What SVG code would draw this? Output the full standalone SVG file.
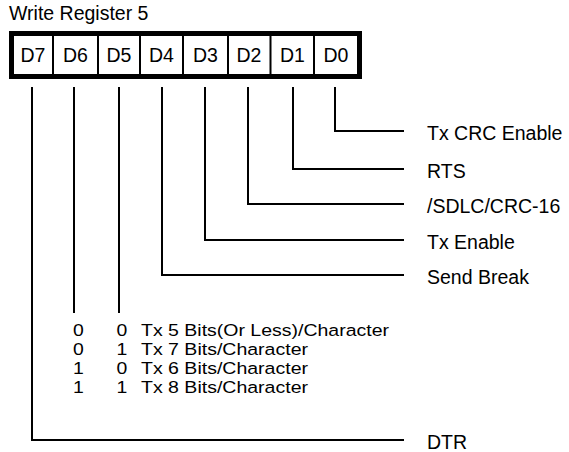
<svg xmlns="http://www.w3.org/2000/svg" width="569" height="452" viewBox="0 0 569 452">
<style>
text{font-family:"Liberation Sans",Arial,sans-serif;font-size:19.5px;fill:#000}
.c{text-anchor:middle}
.t{font-size:16.8px}
.w{stroke:#000;stroke-width:2;fill:none}
</style>
<rect width="569" height="452" fill="#fff"/>
<g id="title"><text x="9" y="20">Write Register 5</text></g>
<g id="register">
<rect x="11.5" y="33.5" width="348" height="43" fill="#fff" stroke="#000" stroke-width="5"/>
<path class="w" d="M53 36V74M98 36V74M140 36V74M183 36V74M228 36V74M270.5 36V74M314 36V74"/>
</g>
<g id="cell-d7"><text class="c" x="33" y="62">D7</text></g>
<g id="cell-d6"><text class="c" x="75.5" y="62">D6</text></g>
<g id="cell-d5"><text class="c" x="119" y="62">D5</text></g>
<g id="cell-d4"><text class="c" x="161.5" y="62">D4</text></g>
<g id="cell-d3"><text class="c" x="205.5" y="62">D3</text></g>
<g id="cell-d2"><text class="c" x="249" y="62">D2</text></g>
<g id="cell-d1"><text class="c" x="292.5" y="62">D1</text></g>
<g id="cell-d0"><text class="c" x="336" y="62">D0</text></g>
<g id="connectors">
<path class="w" d="M335 87V131H404"/>
<path class="w" d="M293 87V169H404"/>
<path class="w" d="M248 87V204H404"/>
<path class="w" d="M205 87V240H404"/>
<path class="w" d="M162 87V275H404"/>
<path class="w" d="M119 87V313"/>
<path class="w" d="M74 87V313"/>
<path class="w" d="M32 87V440H404"/>
</g>
<g id="label-d0"><text x="427" y="140">Tx CRC Enable</text></g>
<g id="label-d1"><text x="427" y="178">RTS</text></g>
<g id="label-d2"><text x="427" y="213">/SDLC/CRC-16</text></g>
<g id="label-d3"><text x="427" y="249">Tx Enable</text></g>
<g id="label-d4"><text x="427" y="284">Send Break</text></g>
<g id="table-d6d5" class="t">
<text class="t" x="73" y="336" textLength="10.8" lengthAdjust="spacingAndGlyphs">0</text><text class="t" x="116.5" y="336" textLength="10.8" lengthAdjust="spacingAndGlyphs">0</text><text class="t" x="141" y="336" textLength="248" lengthAdjust="spacingAndGlyphs">Tx 5 Bits(Or Less)/Character</text>
<text class="t" x="73" y="355" textLength="10.8" lengthAdjust="spacingAndGlyphs">0</text><text class="t" x="116.5" y="355" textLength="10.8" lengthAdjust="spacingAndGlyphs">1</text><text class="t" x="141" y="355" textLength="167" lengthAdjust="spacingAndGlyphs">Tx 7 Bits/Character</text>
<text class="t" x="73" y="374" textLength="10.8" lengthAdjust="spacingAndGlyphs">1</text><text class="t" x="116.5" y="374" textLength="10.8" lengthAdjust="spacingAndGlyphs">0</text><text class="t" x="141" y="374" textLength="167" lengthAdjust="spacingAndGlyphs">Tx 6 Bits/Character</text>
<text class="t" x="73" y="393" textLength="10.8" lengthAdjust="spacingAndGlyphs">1</text><text class="t" x="116.5" y="393" textLength="10.8" lengthAdjust="spacingAndGlyphs">1</text><text class="t" x="141" y="393" textLength="167" lengthAdjust="spacingAndGlyphs">Tx 8 Bits/Character</text>
</g>
<g id="label-d7"><text x="427" y="449">DTR</text></g>
</svg>
